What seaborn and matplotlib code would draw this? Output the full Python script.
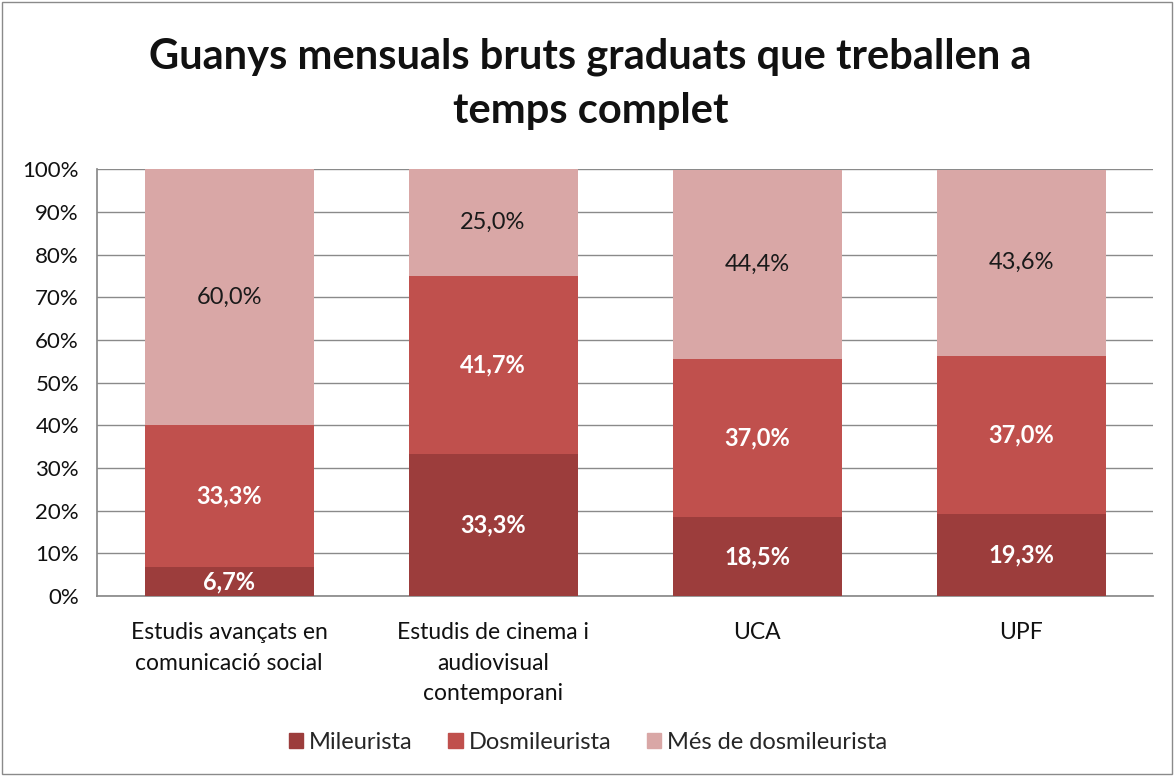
import matplotlib.pyplot as plt
import pandas as pd
import seaborn as sns
from matplotlib.patches import Rectangle
from matplotlib.ticker import FuncFormatter, MultipleLocator

CATEGORIES = [
    "Estudis avançats en\ncomunicació social",
    "Estudis de cinema i\naudiovisual\ncontemporani",
    "UCA",
    "UPF",
]
SERIES = ["Mileurista", "Dosmileurista", "Més de dosmileurista"]
MILEURISTA = [6.7, 33.3, 18.5, 19.3]
DOSMILEURISTA = [33.3, 41.7, 37.0, 37.0]
MES_DOSMILEURISTA = [60.0, 25.0, 44.4, 43.6]
COLORS = ["#9C3D3C", "#C0504D", "#D9A7A6"]
LABEL_COLORS = ["white", "white", "#1a1a1a"]
LABEL_WEIGHTS = ["bold", "bold", "normal"]

TITLE = "Guanys mensuals bruts graduats que treballen a\ntemps complet"

sns.set_theme(style="white")
plt.rcParams["font.family"] = ["Lato", "DejaVu Sans"]

data = pd.DataFrame(
    {
        "categoria": CATEGORIES * 3,
        "serie": [s for s in SERIES for _ in CATEGORIES],
        "valor": MILEURISTA + DOSMILEURISTA + MES_DOSMILEURISTA,
    }
)

fig = plt.figure(figsize=(11.76, 7.76), dpi=100)
ax = fig.add_axes([0.0825, 0.232, 0.898, 0.55])

bottom = [0.0] * len(CATEGORIES)
for serie, color, lcolor, lweight in zip(SERIES, COLORS, LABEL_COLORS, LABEL_WEIGHTS):
    subset = data[data["serie"] == serie]
    values = subset["valor"].tolist()
    sns.barplot(
        data=subset,
        x="categoria",
        y="valor",
        color=color,
        width=0.64,
        bottom=bottom,
        saturation=1,
        linewidth=0,
        ax=ax,
        zorder=3,
    )
    for i, v in enumerate(values):
        ax.text(
            i,
            bottom[i] + v / 2,
            f"{v:.1f}%".replace(".", ","),
            ha="center",
            va="center",
            color=lcolor,
            fontsize=17,
            fontweight=lweight,
            zorder=4,
        )
    bottom = [b + v for b, v in zip(bottom, values)]

ax.set_ylim(0, 100)
ax.set_xlim(-0.5, len(CATEGORIES) - 0.5)
ax.yaxis.set_major_locator(MultipleLocator(10))
ax.yaxis.set_major_formatter(FuncFormatter(lambda v, _: f"{v:.0f}%"))
ax.grid(axis="y", color="#8a8a8a", linewidth=1, zorder=0)
ax.set_axisbelow(True)
ax.set_xlabel("")
ax.set_ylabel("")
for side in ["top", "right"]:
    ax.spines[side].set_visible(False)
for side in ["left", "bottom"]:
    ax.spines[side].set_color("#8a8a8a")
ax.tick_params(axis="y", labelsize=16, length=0, pad=13, colors="#111111")
ax.tick_params(axis="x", labelsize=16.5, length=0, pad=19, colors="#111111")
for label in ax.get_xticklabels():
    label.set_linespacing(1.55)

handles = [Rectangle((0, 0), 1, 1, color=c) for c in COLORS]
fig.legend(
    handles,
    SERIES,
    loc="center",
    bbox_to_anchor=(0.5, 0.043),
    ncol=3,
    frameon=False,
    fontsize=17,
    handlelength=0.6,
    handleheight=0.6,
    handletextpad=0.25,
    columnspacing=1.5,
)

fig.text(0.502, 0.892, TITLE, ha="center", va="center", fontsize=30,
         fontweight="bold", color="#111111", linespacing=1.5)

fig.patches.append(
    Rectangle((0.002, 0.003), 0.995, 0.994, transform=fig.transFigure,
              fill=False, edgecolor="#8a8a8a", linewidth=1)
)

fig.savefig("out.png", dpi=100)
